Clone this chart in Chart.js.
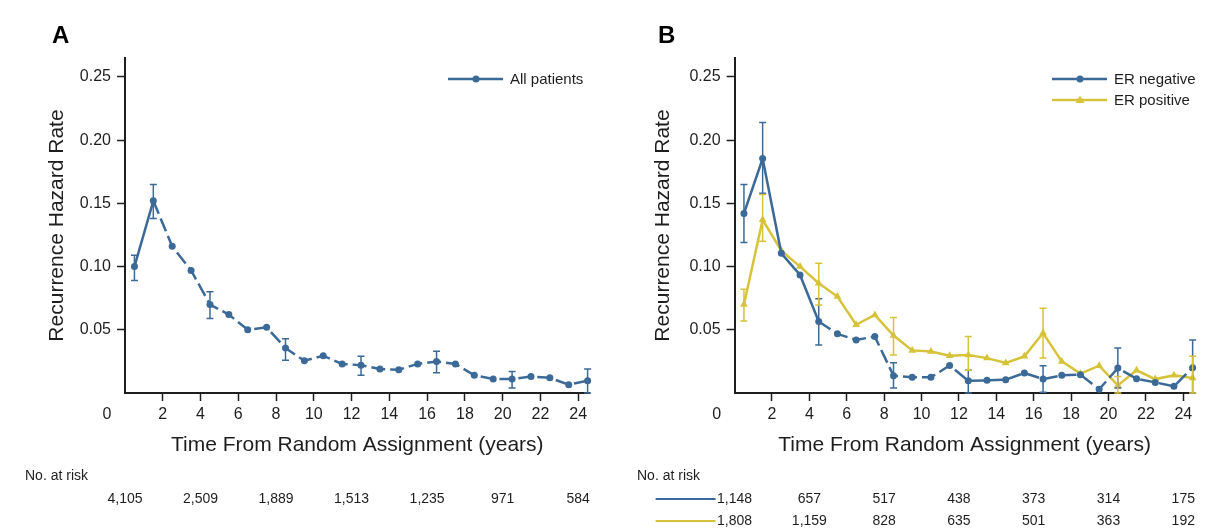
<!DOCTYPE html>
<html>
<head>
<meta charset="utf-8">
<script src="https://cdn.jsdelivr.net/npm/chart.js@4.4.1/dist/chart.umd.min.js"></script>
<style>
  body { margin: 0; background: #fff; }
  #wrap { position: relative; width: 1208px; height: 529px; }
  .panel { position: absolute; top: 0; width: 604px; height: 529px; }
</style>
</head>
<body>
<div id="wrap">
  <div class="panel" style="left:0"><canvas id="chartA"></canvas></div>
  <div class="panel" style="left:604px"><canvas id="chartB"></canvas></div>
</div>
<script>
// data (interval midpoints, years)
const years = [0.5, 1.5, 2.5, 3.5, 4.5, 5.5, 6.5, 7.5, 8.5, 9.5, 10.5, 11.5, 12.5,
  13.5, 14.5, 15.5, 16.5, 17.5, 18.5, 19.5, 20.5, 21.5, 22.5, 23.5, 24.5];

const allPatients = [0.100, 0.152, 0.116, 0.097, 0.070, 0.062, 0.050, 0.052, 0.0355, 0.0255,
  0.0295, 0.023, 0.022, 0.019, 0.0184, 0.023, 0.025, 0.023, 0.014, 0.011, 0.011, 0.013, 0.012, 0.0066, 0.0097];
const allLow = [0.089, 0.138, null, null, 0.059, null, null, null, 0.026, null, null, null, 0.014,
  null, null, null, 0.016, null, null, null, 0.004, null, null, null, 0.0];
const allHigh = [0.109, 0.165, null, null, 0.080, null, null, null, 0.043, null, null, null, 0.029,
  null, null, null, 0.033, null, null, null, 0.017, null, null, null, 0.019];

const erNegative = [0.142, 0.1855, 0.1105, 0.0934, 0.0566, 0.0468, 0.042, 0.0447, 0.0137, 0.0124,
  0.0124, 0.0218, 0.0097, 0.010, 0.0105, 0.0158, 0.011, 0.014, 0.0145, 0.003, 0.0197, 0.0113, 0.0084, 0.0053, 0.020];
const negLow = [0.119, 0.158, null, null, 0.038, null, null, null, 0.004, null, null, null, 0.0,
  null, null, null, 0.0005, null, null, null, 0.004, null, null, null, 0.0];
const negHigh = [0.165, 0.214, null, null, 0.0745, null, null, null, 0.024, null, null, null, 0.018,
  null, null, null, 0.0216, null, null, null, 0.0355, null, null, null, 0.042];

const erPositive = [0.070, 0.137, 0.1126, 0.100, 0.0868, 0.0763, 0.054, 0.0618, 0.0455, 0.0337,
  0.0329, 0.0295, 0.030, 0.0276, 0.0237, 0.029, 0.0474, 0.025, 0.0153, 0.0216, 0.006, 0.018, 0.011, 0.014, 0.0118];
const posLow = [0.057, 0.120, null, null, 0.0697, null, null, null, 0.030, null, null, null, 0.018,
  null, null, null, 0.0276, null, null, null, 0.0, null, null, null, 0.0];
const posHigh = [0.082, 0.157, null, null, 0.1026, null, null, null, 0.0597, null, null, null, 0.0447,
  null, null, null, 0.067, null, null, null, 0.013, null, null, null, 0.029];

// numbers at risk
const riskYears = [0, 4, 8, 12, 16, 20, 24];
const riskAll = ["4,105", "2,509", "1,889", "1,513", "1,235", "971", "584"];
const riskNeg = ["1,148", "657", "517", "438", "373", "314", "175"];
const riskPos = ["1,808", "1,159", "828", "635", "501", "363", "192"];

const blue = "#3b6a98";
const yellow = "#d6c33a";
const ink = "#1e1e1e";
const regular = "'Liberation Sans', Arial, sans-serif";

// vertical error bars with caps
const errorBars = {
  id: "errorBars",
  afterDatasetsDraw(chart) {
    const ctx = chart.ctx;
    const ys = chart.scales.y;
    chart.data.datasets.forEach((ds, di) => {
      const meta = chart.getDatasetMeta(di);
      ctx.save();
      ctx.strokeStyle = ds.borderColor;
      ctx.lineWidth = 1.5;
      ds.errLow.forEach((lo, i) => {
        if (lo == null) return;
        const x = meta.data[i].x;
        const y1 = ys.getPixelForValue(lo);
        const y2 = ys.getPixelForValue(ds.errHigh[i]);
        ctx.beginPath();
        ctx.moveTo(x, y1); ctx.lineTo(x, y2);
        ctx.moveTo(x - 3.5, y1); ctx.lineTo(x + 3.5, y1);
        ctx.moveTo(x - 3.5, y2); ctx.lineTo(x + 3.5, y2);
        ctx.stroke();
      });
      ctx.restore();
    });
  }
};

function drawMarker(ctx, style, x, y, color) {
  ctx.fillStyle = color;
  ctx.beginPath();
  if (style === "triangle") {
    ctx.moveTo(x, y - 4.5); ctx.lineTo(x + 4.5, y + 3); ctx.lineTo(x - 4.5, y + 3);
    ctx.closePath();
  } else {
    ctx.arc(x, y, 3.5, 0, Math.PI * 2);
  }
  ctx.fill();
}

// panel letter, origin label, legend and numbers-at-risk table
const panelExtras = {
  id: "panelExtras",
  afterDraw(chart, args, o) {
    const ctx = chart.ctx;
    const xs = chart.scales.x;
    ctx.save();
    ctx.fillStyle = "#000";
    ctx.textBaseline = "middle";
    ctx.textAlign = "left";
    ctx.font = "bold 24px " + regular;
    ctx.fillText(o.letter, o.letterX, 36);

    ctx.fillStyle = ink;
    ctx.textAlign = "center";
    ctx.font = "16px " + regular;
    ctx.fillText("0", xs.getPixelForValue(0) - 18, 415);

    // legend
    chart.data.datasets.forEach((ds, i) => {
      const y = 79 + i * 21;
      ctx.strokeStyle = ds.borderColor;
      ctx.lineWidth = 2.5;
      ctx.beginPath();
      ctx.moveTo(448, y); ctx.lineTo(503, y);
      ctx.stroke();
      drawMarker(ctx, ds.pointStyle, 476, y, ds.borderColor);
      ctx.fillStyle = ink;
      ctx.textAlign = "left";
      ctx.font = "15px " + regular;
      ctx.fillText(ds.label, 510, y + 1);
    });

    // numbers at risk
    ctx.fillStyle = ink;
    ctx.textAlign = "left";
    ctx.font = "14px " + regular;
    ctx.fillText("No. at risk", o.riskLabelX, 476);
    o.rows.forEach((row, r) => {
      const y = 499 + r * 22;
      if (row.color) {
        const x0 = xs.getPixelForValue(0);
        ctx.strokeStyle = row.color;
        ctx.lineWidth = 2;
        ctx.beginPath();
        ctx.moveTo(x0 - 79, y); ctx.lineTo(x0 - 19, y);
        ctx.stroke();
      }
      ctx.fillStyle = ink;
      ctx.textAlign = "center";
      row.values.forEach((v, j) => {
        ctx.fillText(v, xs.getPixelForValue(riskYears[j]), y);
      });
    });
    ctx.restore();
  }
};

function makeChart(id, cfg) {
  const axisGrid = {
    drawOnChartArea: false,
    drawTicks: true,
    tickLength: 8,
    tickWidth: 1.5,
    tickColor: (c) => (c.tick && c.tick.value === 0 ? "rgba(0,0,0,0)" : ink),
  };
  return new Chart(document.getElementById(id), {
    type: "line",
    data: {
      datasets: cfg.series.map((s) => ({
        label: s.label,
        data: years.map((x, i) => ({ x: x, y: s.values[i] })),
        errLow: s.low,
        errHigh: s.high,
        borderColor: s.color,
        backgroundColor: s.color,
        borderWidth: 2.5,
        pointStyle: s.marker,
        pointRadius: s.marker === "triangle" ? 4.5 : 3.5,
        pointBorderWidth: 0,
        tension: 0,
        clip: false,
        segment: {
          borderDash: (c) => (c.p0DataIndex >= s.dashFrom ? [14, 5] : undefined),
        },
      })),
    },
    options: {
      responsive: true,
      maintainAspectRatio: false,
      animation: false,
      layout: { padding: { left: cfg.padLeft, right: cfg.padRight, top: 58, bottom: 71 } },
      plugins: {
        legend: { display: false },
        tooltip: { enabled: false },
        panelExtras: { letter: cfg.letter, letterX: cfg.letterX, riskLabelX: cfg.riskLabelX, rows: cfg.rows },
      },
      scales: {
        x: {
          type: "linear",
          min: 0,
          max: 24.6,
          afterFit: (s) => { s.height = 65; },
          ticks: {
            stepSize: 2,
            includeBounds: false,
            autoSkip: false,
            maxRotation: 0,
            padding: 4,
            color: ink,
            font: { family: regular, size: 16 },
            callback: (v) => (v === 0 ? "" : v),
          },
          grid: axisGrid,
          border: { color: ink, width: 2 },
          title: {
            display: true,
            text: "Time From Random Assignment (years)",
            color: ink,
            font: { family: regular, size: 21 },
            padding: 0,
          },
        },
        y: {
          min: 0,
          max: 0.265,
          afterFit: (s) => { s.width = cfg.yWidth; },
          ticks: {
            stepSize: 0.05,
            includeBounds: false,
            padding: 6,
            color: ink,
            font: { family: regular, size: 16 },
            callback: (v) => (v === 0 ? "" : v.toFixed(2)),
          },
          grid: axisGrid,
          border: { color: ink, width: 2 },
          title: {
            display: true,
            text: "Recurrence Hazard Rate",
            color: ink,
            font: { family: regular, size: 21 },
            padding: 0,
          },
        },
      },
    },
    plugins: [errorBars, panelExtras],
  });
}

makeChart("chartA", {
  letter: "A", letterX: 52, riskLabelX: 25,
  padLeft: 45, yWidth: 80, padRight: 14.5,
  series: [
    { label: "All patients", values: allPatients, low: allLow, high: allHigh, color: blue, marker: "circle", dashFrom: 1 },
  ],
  rows: [{ color: null, values: riskAll }],
});

makeChart("chartB", {
  letter: "B", letterX: 54, riskLabelX: 33,
  padLeft: 47, yWidth: 83.6, padRight: 13.5,
  series: [
    { label: "ER negative", values: erNegative, low: negLow, high: negHigh, color: blue, marker: "circle", dashFrom: 4 },
    { label: "ER positive", values: erPositive, low: posLow, high: posHigh, color: yellow, marker: "triangle", dashFrom: 99 },
  ],
  rows: [
    { color: blue, values: riskNeg },
    { color: yellow, values: riskPos },
  ],
});
</script>
</body>
</html>
